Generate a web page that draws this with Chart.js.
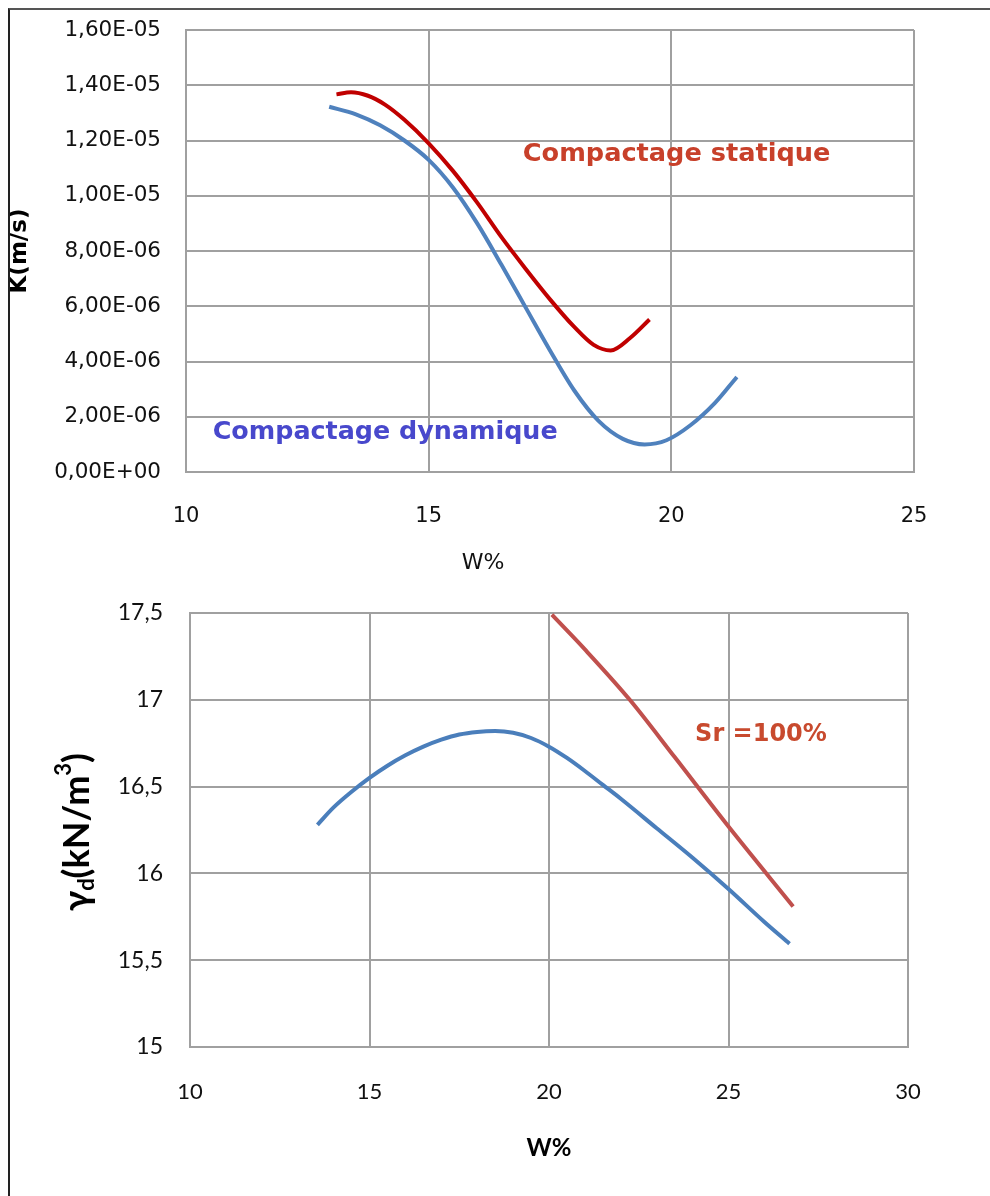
<!DOCTYPE html>
<html>
<head>
<meta charset="utf-8">
<script src="https://cdn.jsdelivr.net/npm/chart.js@4.4.1/dist/chart.umd.min.js"></script>
<style>
  html, body { margin: 0; padding: 0; background: #fff; }
  body { width: 990px; height: 1196px; position: relative; overflow: hidden; }
  .frame { position: absolute; left: 8px; top: 8px; right: -4px; bottom: -4px; border-top: 2px solid #555; border-left: 2px solid #222; pointer-events: none; }
  #top { position: absolute; left: 0; top: 0; width: 990px; height: 590px; }
  #bottom { position: absolute; left: 0; top: 590px; width: 990px; height: 606px; }
</style>
</head>
<body>
<div id="top"><canvas id="kChart"></canvas></div>
<div id="bottom"><canvas id="gammaChart"></canvas></div>
<div class="frame"></div>
<script>
// K(m/s) vs W% — static and dynamic compaction
const wStatic = [13.1, 13.4, 13.75, 14.1, 14.5, 15.0, 15.5, 16.0, 16.5, 17.0, 17.5, 18.0, 18.4, 18.75, 19.15, 19.55];
const kStatic = [13.67e-6, 13.75e-6, 13.62e-6, 13.3e-6, 12.75e-6, 11.9e-6, 10.9e-6, 9.75e-6, 8.5e-6, 7.35e-6, 6.25e-6, 5.25e-6, 4.6e-6, 4.4e-6, 4.85e-6, 5.52e-6];

const wDynamic = [12.95, 13.5, 14.0, 14.5, 15.0, 15.5, 16.0, 16.5, 17.0, 17.5, 18.0, 18.5, 19.0, 19.45, 19.9, 20.4, 20.9, 21.35];
const kDynamic = [13.22e-6, 12.95e-6, 12.55e-6, 12.0e-6, 11.3e-6, 10.3e-6, 9.0e-6, 7.5e-6, 5.95e-6, 4.4e-6, 2.95e-6, 1.85e-6, 1.2e-6, 1.0e-6, 1.15e-6, 1.7e-6, 2.5e-6, 3.44e-6];

const kTicksX = [10, 15, 20, 25];
const kTicksY = [0, 2e-6, 4e-6, 6e-6, 8e-6, 10e-6, 12e-6, 14e-6, 16e-6];

// gamma_d vs W%
const wProctor = [13.55, 14.0, 14.5, 15.0, 15.5, 16.0, 16.5, 17.0, 17.5, 18.0, 18.5, 19.0, 19.5, 20.0, 20.5, 21.0, 21.5, 22.0, 23.0, 24.0, 25.0, 26.0, 26.7];
const gProctor = [16.28, 16.38, 16.47, 16.55, 16.62, 16.68, 16.73, 16.77, 16.80, 16.815, 16.82, 16.81, 16.78, 16.73, 16.665, 16.59, 16.51, 16.43, 16.26, 16.09, 15.91, 15.72, 15.595];

const wSat = [20.08, 21.0, 22.25, 23.5, 25.0, 26.8];
const gSat = [17.49, 17.29, 17.0, 16.67, 16.27, 15.81];

const gTicksX = [10, 15, 20, 25, 30];
const gTicksY = [15, 15.5, 16, 16.5, 17, 17.5];

const GRID = "#a0a0a0";

function sciLabel(v) {
  if (Math.abs(v) < 1e-12) return "0,00E+00";
  const e = Math.floor(Math.log10(Math.abs(v)) + 1e-9);
  const m = v / Math.pow(10, e);
  return m.toFixed(2).replace(".", ",") + "E" + (e < 0 ? "-" : "+") + String(Math.abs(e)).padStart(2, "0");
}

function points(xs, ys) {
  return xs.map((x, i) => ({ x, y: ys[i] }));
}

// keep the label padding from pushing the plot area around
function fixedSize(prop, size) {
  return (s) => {
    s[prop] = size;
    s.paddingTop = 0;
    s.paddingBottom = 0;
    s.paddingLeft = 0;
    s.paddingRight = 0;
  };
}

function textAt(ctx, text, x, y, font, color, align) {
  ctx.save();
  ctx.font = font;
  ctx.fillStyle = color;
  ctx.textAlign = align || "left";
  ctx.textBaseline = "middle";
  ctx.fillText(text, x, y);
  ctx.restore();
}

const kNotes = {
  id: "kNotes",
  afterDatasetsDraw(chart) {
    const { ctx, scales: { x, y } } = chart;
    textAt(ctx, "Compactage statique", x.getPixelForValue(16.94), y.getPixelForValue(11.5e-6), "bold 25.6px 'DejaVu Sans'", "#c8402a");
    textAt(ctx, "Compactage dynamique", x.getPixelForValue(10.55), y.getPixelForValue(1.43e-6), "bold 25.4px 'DejaVu Sans'", "#4848cc");
    // axis title sits left of centre in the original
    textAt(ctx, "W%", 483, 563, "22px 'DejaVu Sans'", "#111", "center");
  },
};

const gNotes = {
  id: "gNotes",
  afterDatasetsDraw(chart) {
    const { ctx, scales: { x, y }, chartArea } = chart;
    textAt(ctx, "Sr =100%", x.getPixelForValue(24.07), y.getPixelForValue(16.8), "bold 24px 'DejaVu Sans'", "#c84a2e");

    // y title: γd(kN/m³) with subscript d and superscript 3
    const parts = [
      { t: "γ", size: 36, dy: 0 },
      { t: "d", size: 22, dy: 10 },
      { t: "(kN/m", size: 36, dy: 0 },
      { t: "3", size: 22, dy: -13 },
      { t: ")", size: 36, dy: 0 },
    ];
    ctx.save();
    let total = 0;
    parts.forEach((p) => {
      ctx.font = `bold ${p.size}px Lato`;
      p.w = ctx.measureText(p.t).width;
      total += p.w;
    });
    ctx.translate(77, (chartArea.top + chartArea.bottom) / 2 + 2);
    ctx.rotate(-Math.PI / 2);
    ctx.fillStyle = "#000";
    ctx.textBaseline = "middle";
    ctx.textAlign = "left";
    let cx = -total / 2;
    parts.forEach((p) => {
      ctx.font = `bold ${p.size}px Lato`;
      ctx.fillText(p.t, cx, p.dy);
      cx += p.w;
    });
    ctx.restore();
  },
};

new Chart(document.getElementById("kChart"), {
  type: "scatter",
  data: {
    datasets: [
      { label: "Compactage statique", data: points(wStatic, kStatic), borderColor: "#c00000", borderWidth: 4, showLine: true, pointRadius: 0, cubicInterpolationMode: "monotone" },
      { label: "Compactage dynamique", data: points(wDynamic, kDynamic), borderColor: "#4f81bd", borderWidth: 4, showLine: true, pointRadius: 0, cubicInterpolationMode: "monotone" },
    ],
  },
  options: {
    responsive: true,
    maintainAspectRatio: false,
    animation: false,
    layout: { padding: { top: 30, right: 76, left: 0, bottom: 0 } },
    plugins: { legend: { display: false }, tooltip: { enabled: false } },
    scales: {
      x: {
        type: "linear",
        min: 10,
        max: 25,
        afterBuildTicks: (s) => { s.ticks = kTicksX.map((v) => ({ value: v })); },
        afterFit: fixedSize("height", 118),
        grid: { color: GRID, lineWidth: 2, drawTicks: false },
        border: { color: GRID, width: 2 },
        ticks: { color: "#111", padding: 32, font: { family: "DejaVu Sans", size: 21 } },
      },
      y: {
        min: 0,
        max: 16e-6,
        afterBuildTicks: (s) => { s.ticks = kTicksY.map((v) => ({ value: v })); },
        afterFit: fixedSize("width", 186),
        grid: { color: GRID, lineWidth: 2, drawTicks: false },
        border: { color: GRID, width: 2 },
        ticks: { color: "#111", padding: 25, font: { family: "DejaVu Sans", size: 21.5 }, callback: (v) => sciLabel(v) },
        title: { display: true, text: "K(m/s)", color: "#000", padding: { top: 6, bottom: 0 }, font: { family: "DejaVu Sans", size: 23, weight: "bold" } },
      },
    },
  },
  plugins: [kNotes],
});

new Chart(document.getElementById("gammaChart"), {
  type: "scatter",
  data: {
    datasets: [
      { label: "Sr = 100%", data: points(wSat, gSat), borderColor: "#c0504d", borderWidth: 4, showLine: true, pointRadius: 0, cubicInterpolationMode: "monotone" },
      { label: "Proctor", data: points(wProctor, gProctor), borderColor: "#4a7ebb", borderWidth: 4, showLine: true, pointRadius: 0, cubicInterpolationMode: "monotone" },
    ],
  },
  options: {
    responsive: true,
    maintainAspectRatio: false,
    animation: false,
    layout: { padding: { top: 23, right: 82, left: 0, bottom: 0 } },
    plugins: { legend: { display: false }, tooltip: { enabled: false } },
    scales: {
      x: {
        type: "linear",
        min: 10,
        max: 30,
        afterBuildTicks: (s) => { s.ticks = gTicksX.map((v) => ({ value: v })); },
        afterFit: fixedSize("height", 149),
        grid: { color: GRID, lineWidth: 2, drawTicks: false },
        border: { color: GRID, width: 2 },
        ticks: { color: "#111", padding: 32, font: { family: "Lato", size: 22 } },
        title: { display: true, text: "W%", color: "#000", padding: { top: 0, bottom: 33 }, font: { family: "Lato", size: 24, weight: "bold" } },
      },
      y: {
        min: 15,
        max: 17.5,
        afterBuildTicks: (s) => { s.ticks = gTicksY.map((v) => ({ value: v })); },
        afterFit: fixedSize("width", 190),
        grid: { color: GRID, lineWidth: 2, drawTicks: false },
        border: { color: GRID, width: 2 },
        ticks: { color: "#111", padding: 27, font: { family: "Lato", size: 23 }, callback: (v) => String(v).replace(".", ",") },
      },
    },
  },
  plugins: [gNotes],
});
</script>
</body>
</html>
